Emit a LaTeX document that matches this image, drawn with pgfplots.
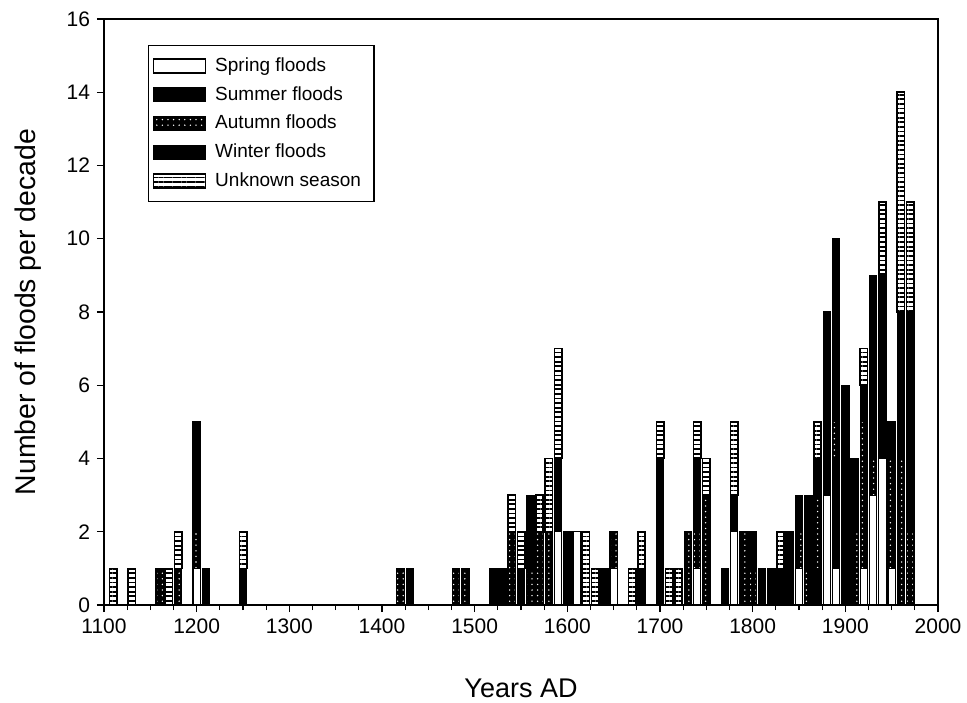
\documentclass[border=0pt]{standalone}
\usepackage{fontspec}
\setmainfont{Liberation Sans}
\usepackage{pgfplots}
\usepackage{pgfplotstable}
\pgfplotsset{compat=1.18}
\usetikzlibrary{patterns.meta}

% floods per decade, by season
\pgfplotstableread{
year spring summer autumn winter unknown
1110 0 0 0 0 1
1130 0 0 0 0 1
1160 0 0 1 0 0
1170 0 0 0 0 1
1180 0 0 1 0 1
1200 1 0 1 3 0
1210 0 0 0 1 0
1250 0 0 0 1 1
1420 0 0 1 0 0
1430 0 0 0 1 0
1480 0 0 1 0 0
1490 0 0 1 0 0
1520 0 1 0 0 0
1530 0 1 0 0 0
1540 0 0 2 0 1
1550 0 1 0 0 1
1560 0 0 1 2 0
1570 0 0 2 0 1
1580 0 0 2 0 2
1590 2 0 0 2 3
1600 0 2 0 0 0
1610 2 0 0 0 0
1620 0 0 0 0 2
1630 0 0 0 0 1
1640 0 1 0 0 0
1650 1 0 1 0 0
1670 0 0 0 0 1
1680 0 0 0 1 1
1700 0 2 0 2 1
1710 0 0 0 0 1
1720 0 0 0 0 1
1730 0 0 2 0 0
1740 1 0 1 2 1
1750 0 0 3 0 1
1770 0 1 0 0 0
1780 2 0 0 1 2
1790 0 0 2 0 0
1800 0 0 1 1 0
1810 0 1 0 0 0
1820 0 1 0 0 0
1830 0 1 0 0 1
1840 0 1 0 1 0
1850 1 0 1 1 0
1860 0 0 1 2 0
1870 0 1 2 1 1
1880 3 2 0 3 0
1890 1 3 1 5 0
1900 0 3 0 3 0
1910 0 0 2 2 0
1920 1 0 4 1 1
1930 3 0 1 5 0
1940 4 0 0 5 2
1950 1 0 3 1 0
1960 0 0 4 4 6
1970 0 0 2 6 3
}\floods

\begin{document}
\begin{tikzpicture}
\useasboundingbox (-52pt,-48.5pt) rectangle (431.5pt,302.5pt);
\begin{axis}[
  scale only axis,
  width=417pt, height=293pt,
  xmin=1100, xmax=2000,
  ymin=0, ymax=16,
  xtick={1100,1200,...,2000},
  minor x tick num=3,
  ytick={0,2,...,16},
  tick pos=left,
  tick align=outside,
  major tick length=3.5pt,
  minor tick length=2.5pt,
  axis line style={line width=0.7pt},
  every tick/.style={black, line width=0.6pt},
  /pgf/number format/1000 sep={},
  /pgf/number format/assume math mode=true,
  tick label style={font=\fontsize{10.5}{12}\selectfont},
  xlabel={Years AD},
  ylabel={Number of floods per decade},
  x label style={font=\fontsize{13.5}{16}\selectfont,
    at={(axis description cs:0.5,-0.1416)}, anchor=center},
  y label style={font=\fontsize{14.2}{16}\selectfont,
    at={(axis description cs:-0.091,0.5)}, anchor=center},
  ybar stacked,
  bar width=3.7pt,
  legend image code/.code={\draw[#1] (0pt,-3.5pt) rectangle (26pt,3.5pt);},
  legend style={
    at={(rel axis cs:0.0528,0.9556)}, anchor=north west,
    draw=black, line width=0.6pt,
    font=\fontsize{9.5}{11.5}\selectfont,
    cells={anchor=west},
    nodes={inner xsep=4.5pt},
    row sep=2pt,
    inner xsep=2pt, inner ysep=4pt,
  },
]
\addplot[fill=white, draw=black, line width=0.6pt]
  table[x=year, y=spring] {\floods};
\addplot[fill=black, draw=black, line width=0.6pt]
  table[x=year, y=summer] {\floods};
\addplot[fill=black, draw=black, line width=0.6pt,
  postaction={pattern color=white, pattern={Dots[distance=2.8pt, radius=0.38pt]}}]
  table[x=year, y=autumn] {\floods};
\addplot[fill=black, draw=black, line width=0.6pt]
  table[x=year, y=winter] {\floods};
\addplot[fill=white, draw=black, line width=0.8pt,
  postaction={pattern color=black, pattern={Lines[angle=0, distance=2.3pt, line width=0.9pt]}}]
  table[x=year, y=unknown] {\floods};
\legend{Spring floods, Summer floods, Autumn floods, Winter floods, Unknown season}
\end{axis}
\end{tikzpicture}
\end{document}
